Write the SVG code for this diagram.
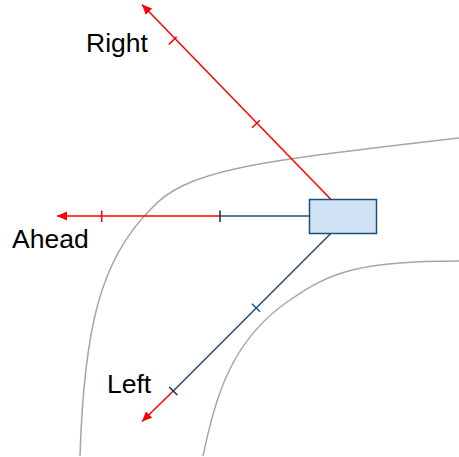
<svg xmlns="http://www.w3.org/2000/svg" width="459" height="457" viewBox="0 0 459 457">
<defs>
<style>
.road{fill:none;stroke:#a6a6a6;stroke-width:1.5}
.red{fill:none;stroke:#ff0000;stroke-width:1.5}
.blue{fill:none;stroke:#1f4e79;stroke-width:1.5}
.lbl{font-family:"Liberation Sans",Arial,sans-serif;font-size:26.5px;fill:#000}
</style>
<marker id="arr" markerUnits="userSpaceOnUse" markerWidth="12" markerHeight="10" refX="10" refY="4.5" orient="auto">
<path d="M0,0 L10,4.5 L0,9 Z" fill="#ff0000"/>
</marker>
</defs>
<g id="roads">
<path class="road" d="M80,456 C84,330 100,260 150,210 C185,170 250,162 459,138"/>
<path class="road" d="M203,456 C215,400 230,340 290,300 C330,272 360,261 459,261"/>
</g>
<g id="connectors">
<line class="red" x1="331" y1="199.5" x2="142" y2="4.5" marker-end="url(#arr)"/>
<line class="red" x1="168.8" y1="44.5" x2="176.6" y2="36.9"/>
<line class="red" x1="252.1" y1="127.8" x2="259.9" y2="120.2"/>
<line class="blue" x1="309.5" y1="216" x2="220" y2="216"/>
<line class="red" x1="220" y1="216" x2="57" y2="216" marker-end="url(#arr)"/>
<line class="red" x1="101.7" y1="210.5" x2="101.7" y2="222"/>
<line class="blue" x1="220" y1="210.5" x2="220" y2="222" style="stroke:#1a2e45"/>
<line class="blue" x1="330.7" y1="233.5" x2="173.3" y2="391"/>
<line class="red" x1="173.3" y1="391" x2="142" y2="421.5" marker-end="url(#arr)"/>
<line class="blue" x1="252" y1="303.7" x2="260" y2="311.7"/>
<line class="blue" x1="169.3" y1="387" x2="177.3" y2="395" style="stroke:#1a2e45"/>
</g>
<g id="car">
<rect x="309.5" y="199.5" width="67" height="34" fill="#cfe2f3" stroke="#1f4e79" stroke-width="1.5"/>
</g>
<g id="labels">
<text class="lbl" x="86" y="52">Right</text>
<text class="lbl" x="12" y="248">Ahead</text>
<text class="lbl" x="107" y="393">Left</text>
</g>
</svg>
